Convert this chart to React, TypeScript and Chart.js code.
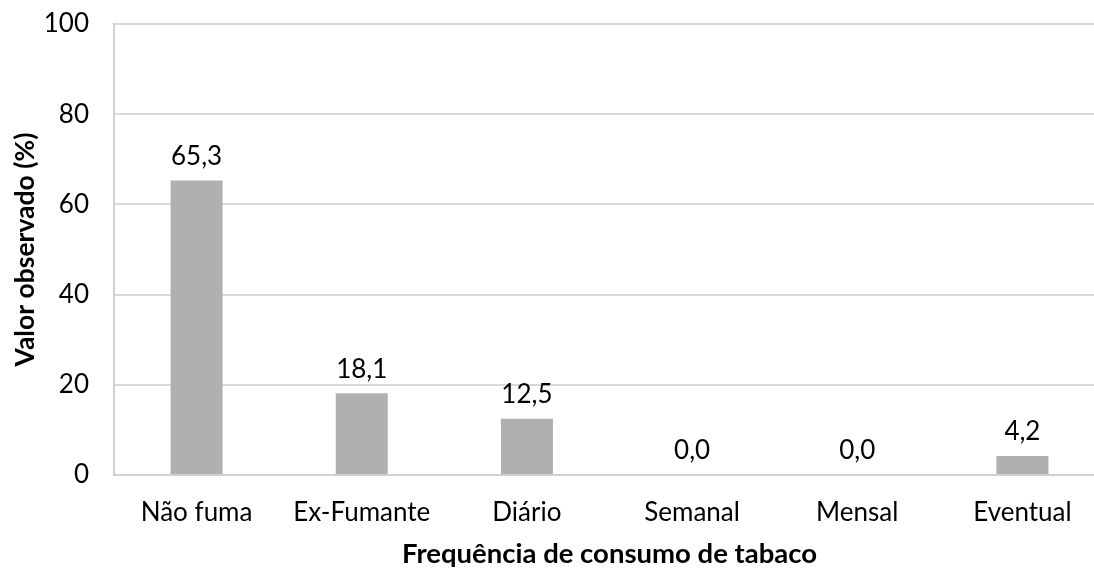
import React, { useEffect, useRef } from "react";
import { Chart, registerables } from "chart.js";

Chart.register(...registerables);

const categories = ["Não fuma", "Ex-Fumante", "Diário", "Semanal", "Mensal", "Eventual"];
const values = [65.3, 18.1, 12.5, 0.0, 0.0, 4.2];
const yTicks = [0, 20, 40, 60, 80, 100];

const FONT = "Lato, 'Open Sans', sans-serif";

const labelPlugin = {
  id: "barLabels",
  afterDatasetsDraw(chart: any) {
    const ctx = chart.ctx;
    const meta = chart.getDatasetMeta(0);
    ctx.save();
    ctx.font = `26px ${FONT}`;
    ctx.fillStyle = "#000";
    ctx.textAlign = "center";
    ctx.textBaseline = "middle";
    meta.data.forEach((el: any, i: number) => {
      const v = values[i];
      ctx.fillText(v.toFixed(1).replace(".", ","), el.x, el.y - 24);
    });
    ctx.restore();
  },
};

export default function App() {
  const ref = useRef<HTMLCanvasElement>(null);
  useEffect(() => {
    const chart = new Chart(ref.current!, {
      type: "bar",
      data: {
        labels: categories,
        datasets: [
          {
            data: values,
            backgroundColor: "#b0b0b0",
            barPercentage: 0.63,
            categoryPercentage: 0.5,
          },
        ],
      },
      options: {
        responsive: false,
        animation: false,
        layout: { padding: { top: 24, right: 0, left: 0, bottom: 0 } },
        plugins: { legend: { display: false }, tooltip: { enabled: false } },
        scales: {
          x: {
            grid: { display: false, drawTicks: false },
            border: { color: "#d0d0d0", width: 2 },
            ticks: { color: "#000", font: { family: FONT, size: 26 }, padding: 22 },
            title: {
              display: true,
              text: "Frequência de consumo de tabaco",
              color: "#000",
              font: { family: FONT, size: 27.5, weight: "bold" },
              padding: { top: 8, bottom: 0 },
            },
            afterFit(scale: any) {
              scale.height = 96;
              scale.paddingLeft = 0;
              scale.paddingRight = 0;
            },
          },
          y: {
            min: 0,
            max: 100,
            afterBuildTicks(scale: any) {
              scale.ticks = yTicks.map((v) => ({ value: v }));
            },
            grid: { color: "#d9d9d9", lineWidth: 2, drawTicks: false },
            border: { color: "#d0d0d0", width: 2 },
            ticks: { color: "#000", font: { family: FONT, size: 26 }, padding: 25 },
            title: {
              display: true,
              text: "Valor observado (%)",
              color: "#000",
              font: { family: FONT, size: 26.5, weight: "bold" },
              padding: { top: 10, bottom: 0 },
            },
            afterFit(scale: any) {
              scale.width = 114;
              scale.paddingTop = 0;
              scale.paddingBottom = 0;
            },
          },
        },
      },
      plugins: [labelPlugin],
    });
    return () => chart.destroy();
  }, []);
  return (
    <div style={{ position: "fixed", left: 0, top: 0, width: 1094, height: 571, overflow: "hidden", background: "#fff" }}>
      <canvas ref={ref} width={1105} height={571} style={{ display: "block" }} />
    </div>
  );
}
